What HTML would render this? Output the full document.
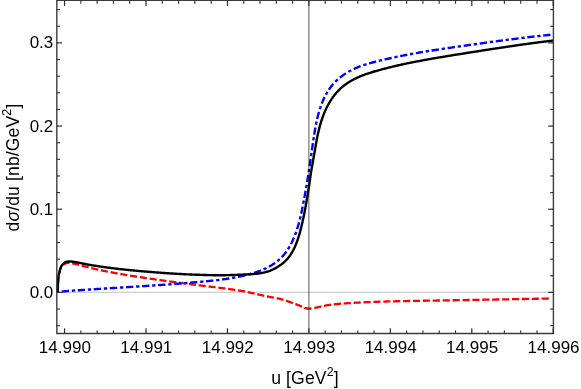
<!DOCTYPE html>
<html><head><meta charset="utf-8"><title>plot</title>
<style>
html,body{margin:0;padding:0;background:#fff;}
body{width:581px;height:389px;overflow:hidden;}
svg{display:block;will-change:transform;}
text{font-family:"Liberation Sans",sans-serif;fill:#000;}
</style></head><body>
<svg width="581" height="389" viewBox="0 0 581 389">
<rect width="581" height="389" fill="#fff"/>
<line x1="56.82" y1="292.28" x2="553.4" y2="292.28" stroke="#c4c4c4" stroke-width="1"/>
<g fill="none" stroke-linejoin="round">
<path d="M57.20,292.40 L57.28,292.21 L57.37,292.01 L57.46,291.82 L57.54,291.62 L57.61,291.42 L57.66,291.23 L57.70,291.03 L57.71,290.83 L57.73,290.62 L57.74,290.42 L57.76,290.22 L57.77,290.02 L57.78,289.81 L57.79,289.61 L57.80,289.40 L57.81,289.19 L57.82,288.99 L57.83,288.78 L57.84,288.57 L57.84,288.36 L57.85,288.16 L57.86,287.95 L57.86,287.74 L57.87,287.53 L57.87,287.32 L57.88,287.11 L57.88,286.90 L57.89,286.69 L57.89,286.48 L57.89,286.31 M57.97,283.56 L57.97,283.53 L57.98,283.33 L57.99,283.12 L58.00,282.91 L58.02,282.70 L58.03,282.49 L58.04,282.29 L58.06,282.08 L58.07,281.87 L58.09,281.66 L58.10,281.45 L58.12,281.25 L58.13,281.04 L58.15,280.83 L58.17,280.62 L58.19,280.41 L58.21,280.21 L58.22,280.00 L58.24,279.79 L58.27,279.58 L58.29,279.38 L58.31,279.17 L58.33,278.96 L58.35,278.75 L58.38,278.55 L58.40,278.34 L58.42,278.13 L58.45,277.93 L58.47,277.72 L58.50,277.52 L58.52,277.31 L58.55,277.10 L58.58,276.90 L58.61,276.69 L58.64,276.49 L58.65,276.44 M59.18,273.74 L59.20,273.63 L59.25,273.42 L59.30,273.22 L59.35,273.01 L59.40,272.81 L59.45,272.61 L59.50,272.41 L59.55,272.20 L59.60,272.00 L59.71,271.56 L59.81,271.06 L59.93,270.56 L60.07,270.05 L60.23,269.54 L60.41,269.03 L60.60,268.53 L60.82,268.03 L61.06,267.55 L61.32,267.08 L61.38,266.98 M63.10,264.85 L63.26,264.70 L63.65,264.39 L64.05,264.12 L64.47,263.87 L64.90,263.66 L65.35,263.47 L65.81,263.32 L66.28,263.19 L66.76,263.08 L67.25,263.01 L67.74,262.96 L68.24,262.93 L68.74,262.92 L69.25,262.93 L69.49,262.95 M72.10,263.28 L72.31,263.32 L72.82,263.41 L73.33,263.51 L73.83,263.62 L74.33,263.73 L74.83,263.84 L75.33,263.96 L75.83,264.08 L76.33,264.21 L76.83,264.33 L77.32,264.46 L77.82,264.59 L78.31,264.73 L78.81,264.86 L79.05,264.93 M81.70,265.66 L81.77,265.68 L82.26,265.81 L82.75,265.95 L83.25,266.08 L83.74,266.21 L84.24,266.34 L84.73,266.47 L85.22,266.60 L85.72,266.73 L86.21,266.86 L86.71,266.98 L87.20,267.11 L87.70,267.23 L88.20,267.36 L88.60,267.46 M91.27,268.10 L91.67,268.20 L92.17,268.31 L92.66,268.43 L93.16,268.54 L93.66,268.66 L94.16,268.77 L94.65,268.89 L95.15,269.00 L95.65,269.11 L96.15,269.22 L96.65,269.33 L97.14,269.44 L97.64,269.55 L98.14,269.66 L98.22,269.67 M100.90,270.24 L101.14,270.29 L101.64,270.40 L102.13,270.50 L102.63,270.60 L103.13,270.71 L103.63,270.81 L104.13,270.91 L104.63,271.01 L105.14,271.11 L105.64,271.21 L106.14,271.31 L106.64,271.41 L107.14,271.51 L107.64,271.61 L107.89,271.65 M110.59,272.17 L110.65,272.18 L111.15,272.28 L111.65,272.37 L112.15,272.47 L112.65,272.56 L113.15,272.66 L113.66,272.75 L114.16,272.84 L114.66,272.93 L115.16,273.03 L115.66,273.12 L116.17,273.21 L116.67,273.30 L117.17,273.39 L117.60,273.46 M120.30,273.94 L120.69,274.01 L121.19,274.10 L121.70,274.19 L122.20,274.27 L122.70,274.36 L123.21,274.44 L123.71,274.53 L124.21,274.62 L124.72,274.70 L125.22,274.79 L125.72,274.87 L126.23,274.95 L126.73,275.04 L127.23,275.12 L127.33,275.14 M130.03,275.58 L130.26,275.62 L130.76,275.70 L131.27,275.78 L131.77,275.86 L132.28,275.94 L132.78,276.02 L133.28,276.10 L133.79,276.18 L134.29,276.26 L134.80,276.34 L135.30,276.42 L135.81,276.50 L136.31,276.58 L136.82,276.66 L137.08,276.70 M139.79,277.12 L139.85,277.13 L140.35,277.20 L140.86,277.28 L141.36,277.36 L141.87,277.43 L142.37,277.51 L142.88,277.59 L143.38,277.66 L143.89,277.74 L144.39,277.81 L144.90,277.89 L145.40,277.97 L145.91,278.04 L146.41,278.12 L146.84,278.18 M149.55,278.58 L149.95,278.64 L150.46,278.71 L150.96,278.79 L151.47,278.86 L151.97,278.93 L152.48,279.01 L152.98,279.08 L153.49,279.15 L153.99,279.23 L154.50,279.30 L155.00,279.37 L155.51,279.45 L156.02,279.52 L156.52,279.59 L156.63,279.61 M159.35,280.00 L159.55,280.03 L160.06,280.10 L160.57,280.17 L161.07,280.24 L161.58,280.31 L162.08,280.39 L162.59,280.46 L163.09,280.53 L163.60,280.60 L164.10,280.67 L164.61,280.74 L165.12,280.81 L165.62,280.89 L166.13,280.96 L166.46,281.00 M169.20,281.39 L169.67,281.45 L170.17,281.52 L170.68,281.59 L171.18,281.66 L171.69,281.73 L172.19,281.80 L172.70,281.87 L173.21,281.94 L173.71,282.01 L174.22,282.07 L174.72,282.14 L175.23,282.21 L175.74,282.28 L176.24,282.35 L176.29,282.35 M179.02,282.72 L179.28,282.75 L179.78,282.82 L180.29,282.89 L180.80,282.96 L181.30,283.02 L181.81,283.09 L182.31,283.16 L182.82,283.22 L183.33,283.29 L183.83,283.35 L184.34,283.42 L184.84,283.48 L185.35,283.55 L185.86,283.62 L186.11,283.65 M188.84,284.00 L188.90,284.00 L189.40,284.07 L189.91,284.13 L190.41,284.20 L190.92,284.26 L191.43,284.33 L191.93,284.39 L192.44,284.45 L192.95,284.52 L193.45,284.58 L193.96,284.64 L194.47,284.71 L194.97,284.77 L195.48,284.83 L195.94,284.89 M198.67,285.23 L199.03,285.27 L199.53,285.34 L200.04,285.40 L200.55,285.46 L201.05,285.52 L201.56,285.59 L202.07,285.65 L202.57,285.71 L203.08,285.77 L203.59,285.84 L204.09,285.90 L204.60,285.96 L205.11,286.02 L205.62,286.09 L205.77,286.11 M208.50,286.44 L208.66,286.46 L209.16,286.52 L209.67,286.59 L210.18,286.65 L210.68,286.71 L211.19,286.77 L211.70,286.83 L212.20,286.90 L212.71,286.96 L213.22,287.02 L213.73,287.08 L214.23,287.15 L214.74,287.21 L215.25,287.27 L215.61,287.32 M218.34,287.66 L218.80,287.71 L219.30,287.78 L219.81,287.84 L220.32,287.90 L220.82,287.97 L221.33,288.03 L221.84,288.09 L222.34,288.16 L222.85,288.22 L223.36,288.28 L223.87,288.35 L224.37,288.41 L224.88,288.48 L225.39,288.54 L225.45,288.55 M228.18,288.91 L228.43,288.94 L228.93,289.01 L229.44,289.08 L229.94,289.14 L230.45,289.21 L230.96,289.28 L231.46,289.35 L231.97,289.43 L232.47,289.50 L232.98,289.57 L233.49,289.64 L233.99,289.72 L234.50,289.79 L235.00,289.87 L235.28,289.91 M238.00,290.33 L238.03,290.34 L238.53,290.42 L239.04,290.50 L239.54,290.58 L240.04,290.67 L240.55,290.75 L241.05,290.84 L241.55,290.93 L242.05,291.02 L242.56,291.11 L243.06,291.20 L243.56,291.29 L244.06,291.38 L244.56,291.48 L245.01,291.56 M247.69,292.10 L248.07,292.18 L248.57,292.28 L249.06,292.39 L249.56,292.50 L250.06,292.60 L250.56,292.71 L251.06,292.82 L251.56,292.93 L252.06,293.04 L252.55,293.15 L253.05,293.27 L253.55,293.38 L254.05,293.49 L254.55,293.61 L254.64,293.63 M257.31,294.24 L257.53,294.29 L258.03,294.41 L258.53,294.52 L259.03,294.64 L259.52,294.75 L260.02,294.86 L260.52,294.98 L261.02,295.09 L261.52,295.21 L262.01,295.32 L262.51,295.43 L263.01,295.54 L263.51,295.65 L264.01,295.76 L264.25,295.81 M266.92,296.38 L267.01,296.40 L267.51,296.50 L268.01,296.61 L268.51,296.71 L269.01,296.81 L269.51,296.90 L270.01,297.00 L270.51,297.10 L271.02,297.19 L271.52,297.28 L272.02,297.37 L272.53,297.46 L273.03,297.55 L273.53,297.64 L273.91,297.71 M276.61,298.20 L277.05,298.28 L277.55,298.38 L278.05,298.49 L278.55,298.59 L279.05,298.70 L279.54,298.81 L280.04,298.93 L280.53,299.05 L281.03,299.18 L281.52,299.31 L282.01,299.44 L282.50,299.58 L282.99,299.72 L283.48,299.87 L283.52,299.88 M286.13,300.70 L286.40,300.80 L286.88,300.96 L287.37,301.13 L287.85,301.29 L288.33,301.46 L288.82,301.63 L289.30,301.80 L289.78,301.98 L290.26,302.15 L290.74,302.32 L291.22,302.50 L291.70,302.67 L292.19,302.85 L292.67,303.02 L292.83,303.08 M295.40,304.03 L295.54,304.08 L296.02,304.26 L296.50,304.44 L296.98,304.62 L297.46,304.81 L297.93,304.99 L298.41,305.18 L298.88,305.36 L299.36,305.55 L299.83,305.74 L300.30,305.94 L300.77,306.13 L301.24,306.33 L301.71,306.53 L302.01,306.66 M304.50,307.79 L304.50,307.80 L304.66,307.86 L304.82,307.92 L304.98,307.97 L305.14,308.02 L305.30,308.08 L305.47,308.12 L305.63,308.17 L305.79,308.21 L305.95,308.26 L306.12,308.29 L306.28,308.33 L306.44,308.36 L306.61,308.39 L306.77,308.41 L306.94,308.43 L307.11,308.46 L307.27,308.48 L307.44,308.50 L307.61,308.52 L307.78,308.54 L307.94,308.56 L308.11,308.57 L308.28,308.58 L308.45,308.59 L308.62,308.60 L308.79,308.60 L308.95,308.60 L309.12,308.60 L309.29,308.59 L309.46,308.59 L309.63,308.58 L309.79,308.57 L309.96,308.56 L310.13,308.55 L310.30,308.53 L310.47,308.52 L310.63,308.51 L310.80,308.49 L310.97,308.48 L311.14,308.46 L311.30,308.45 L311.47,308.43 L311.57,308.42 M314.30,308.00 L315.10,307.93 L315.88,307.72 L316.66,307.52 L317.44,307.32 L318.22,307.12 L319.00,306.94 L319.78,306.75 L320.56,306.58 L321.35,306.40 L321.37,306.40 M324.10,305.84 L324.49,305.77 L325.28,305.62 L326.07,305.48 L326.85,305.34 L327.64,305.21 L328.43,305.09 L329.22,304.97 L330.02,304.85 L330.81,304.74 L331.15,304.69 M333.88,304.35 L333.98,304.33 L334.78,304.24 L335.57,304.15 L336.37,304.07 L337.16,303.99 L337.96,303.91 L338.75,303.84 L339.55,303.77 L340.35,303.70 L340.99,303.65 M343.73,303.43 L344.34,303.39 L345.14,303.34 L345.94,303.28 L346.74,303.23 L347.54,303.18 L348.34,303.13 L349.14,303.08 L349.94,303.03 L350.73,302.99 L350.87,302.98 M353.61,302.82 L353.93,302.80 L354.73,302.76 L355.53,302.72 L356.33,302.68 L357.13,302.63 L357.93,302.59 L358.73,302.55 L359.53,302.51 L360.33,302.48 L360.75,302.46 M363.49,302.33 L363.54,302.33 L364.34,302.29 L365.14,302.26 L365.94,302.22 L366.74,302.19 L367.54,302.15 L368.34,302.12 L369.14,302.09 L369.94,302.06 L370.64,302.03 M373.38,301.92 L373.94,301.90 L374.74,301.88 L375.54,301.85 L376.34,301.82 L377.15,301.79 L377.95,301.76 L378.75,301.74 L379.55,301.71 L380.35,301.69 L380.53,301.68 M383.27,301.60 L383.55,301.59 L384.35,301.57 L385.15,301.54 L385.96,301.52 L386.76,301.50 L387.56,301.47 L388.36,301.45 L389.16,301.43 L389.96,301.41 L390.42,301.40 M393.17,301.33 L393.97,301.31 L394.77,301.29 L395.57,301.27 L396.37,301.26 L397.17,301.24 L397.97,301.22 L398.77,301.20 L399.58,301.18 L400.31,301.17 M403.06,301.11 L403.58,301.10 L404.38,301.09 L405.18,301.07 L405.99,301.05 L406.79,301.04 L407.59,301.02 L408.39,301.01 L409.19,300.99 L409.99,300.98 L410.21,300.98 M412.96,300.93 L413.20,300.92 L414.00,300.91 L414.80,300.89 L415.60,300.88 L416.40,300.87 L417.20,300.85 L418.01,300.84 L418.81,300.82 L419.61,300.81 L420.10,300.80 M422.85,300.76 L423.62,300.74 L424.42,300.73 L425.22,300.72 L426.02,300.70 L426.82,300.69 L427.62,300.68 L428.42,300.66 L429.22,300.65 L429.93,300.64 M432.65,300.59 L433.23,300.59 L434.03,300.57 L434.83,300.56 L435.64,300.55 L436.44,300.53 L437.24,300.52 L438.04,300.51 L438.84,300.49 L439.64,300.48 L439.91,300.47 M442.70,300.43 L442.85,300.43 L443.65,300.41 L444.45,300.40 L445.25,300.39 L446.05,300.37 L446.85,300.36 L447.65,300.35 L448.45,300.33 L449.26,300.32 L449.85,300.31 M452.60,300.26 L453.26,300.25 L454.06,300.24 L454.86,300.23 L455.66,300.21 L456.47,300.20 L457.27,300.18 L458.07,300.17 L458.87,300.16 L459.67,300.14 L459.75,300.14 M462.50,300.10 L462.87,300.09 L463.68,300.08 L464.48,300.06 L465.28,300.05 L466.08,300.04 L466.88,300.02 L467.68,300.01 L468.48,299.99 L469.28,299.98 L469.65,299.97 M472.40,299.93 L472.49,299.93 L473.29,299.91 L474.09,299.90 L474.89,299.89 L475.69,299.87 L476.49,299.86 L477.29,299.84 L478.09,299.83 L478.90,299.82 L479.55,299.80 M482.30,299.76 L482.90,299.75 L483.70,299.73 L484.50,299.72 L485.30,299.70 L486.11,299.69 L486.91,299.68 L487.71,299.66 L488.51,299.65 L489.31,299.63 L489.45,299.63 M492.20,299.58 L492.51,299.58 L493.31,299.56 L494.12,299.55 L494.92,299.53 L495.72,299.52 L496.52,299.51 L497.32,299.49 L498.12,299.48 L498.92,299.46 L499.35,299.45 M502.10,299.40 L502.13,299.40 L502.93,299.39 L503.73,299.38 L504.53,299.36 L505.33,299.35 L506.13,299.33 L506.93,299.32 L507.73,299.30 L508.53,299.29 L509.25,299.27 M512.00,299.22 L512.54,299.21 L513.34,299.20 L514.14,299.18 L514.94,299.17 L515.74,299.15 L516.55,299.14 L517.35,299.12 L518.15,299.11 L518.95,299.09 L519.15,299.09 M521.90,299.04 L522.15,299.03 L522.95,299.02 L523.76,299.00 L524.56,298.98 L525.36,298.97 L526.16,298.95 L526.96,298.94 L527.76,298.92 L528.56,298.91 L529.05,298.90 M531.80,298.84 L532.57,298.83 L533.37,298.81 L534.17,298.80 L534.97,298.78 L535.77,298.76 L536.57,298.75 L537.38,298.73 L538.18,298.72 L538.88,298.70 M541.60,298.65 L542.18,298.63 L542.98,298.62 L543.79,298.60 L544.59,298.59 L545.39,298.57 L546.19,298.55 L546.99,298.54 L547.79,298.52 L548.59,298.50 L548.75,298.50" stroke="#ff0000" stroke-width="2.3"/>
<path d="M57.21,291.86 L58.28,291.78 L59.12,291.71 M61.76,291.50 L62.54,291.44 L63.61,291.36 L64.68,291.28 L65.74,291.20 L66.81,291.12 L67.88,291.04 L68.94,290.96 L69.04,290.95 M71.83,290.75 L72.14,290.73 L73.21,290.65 L74.28,290.57 L75.13,290.51 M77.77,290.33 L78.55,290.27 L79.62,290.20 L80.69,290.12 L81.76,290.05 L82.82,289.98 L83.89,289.90 L84.96,289.83 L85.05,289.82 M87.85,289.64 L88.17,289.61 L89.24,289.54 L90.31,289.47 L91.14,289.42 M93.78,289.24 L94.59,289.19 L95.66,289.12 L96.73,289.05 L97.80,288.98 L98.87,288.91 L99.94,288.85 L101.01,288.78 L101.07,288.77 M103.86,288.60 L104.22,288.57 L105.29,288.51 L106.36,288.44 L107.16,288.39 M109.80,288.22 L110.64,288.17 L111.71,288.10 L112.78,288.03 L113.85,287.97 L114.92,287.90 L115.99,287.83 L117.06,287.77 L117.17,287.76 M119.99,287.59 L120.28,287.57 L121.35,287.50 L122.42,287.43 L123.33,287.38 M126.00,287.21 L126.70,287.17 L127.77,287.10 L128.84,287.03 L129.92,286.97 L130.99,286.90 L132.06,286.83 L133.13,286.76 L133.32,286.75 M136.13,286.57 L136.34,286.56 L137.41,286.49 L138.48,286.43 L139.44,286.36 M142.10,286.19 L142.77,286.15 L143.84,286.08 L144.91,286.01 L145.98,285.94 L147.05,285.87 L148.12,285.80 L149.19,285.73 L149.38,285.72 M152.17,285.53 L152.40,285.52 L153.47,285.45 L154.54,285.38 L155.46,285.31 M158.10,285.13 L158.82,285.08 L159.89,285.01 L160.96,284.94 L162.03,284.86 L163.10,284.79 L164.17,284.71 L165.23,284.64 L165.42,284.62 M168.23,284.42 L168.44,284.41 L169.51,284.33 L170.58,284.25 L171.54,284.18 M174.20,283.98 L174.85,283.93 L175.92,283.85 L176.99,283.77 L178.06,283.69 L179.12,283.61 L180.19,283.52 L181.26,283.44 L181.43,283.42 M184.21,283.20 L184.46,283.18 L185.53,283.10 L186.59,283.01 L187.48,282.94 M190.10,282.72 L190.86,282.66 L191.93,282.57 L192.99,282.48 L194.06,282.38 L195.12,282.29 L196.19,282.20 L197.25,282.11 L197.38,282.09 M200.17,281.84 L200.45,281.82 L201.51,281.72 L202.57,281.62 L203.46,281.54 M206.10,281.29 L206.83,281.22 L207.89,281.12 L208.96,281.01 L210.02,280.90 L211.08,280.79 L212.14,280.68 L213.20,280.57 L213.39,280.55 M216.18,280.23 L216.39,280.21 L217.45,280.08 L218.51,279.95 L219.46,279.84 M222.10,279.50 L222.75,279.41 L223.81,279.26 L224.87,279.11 L225.93,278.96 L226.98,278.80 L228.04,278.64 L229.10,278.48 L229.35,278.44 M232.13,277.98 L232.27,277.95 L233.33,277.77 L234.38,277.57 L235.39,277.39 M238.00,276.88 L238.60,276.76 L239.66,276.54 L240.71,276.32 L241.77,276.09 L242.82,275.85 L243.87,275.61 L244.93,275.36 L245.33,275.26 M248.12,274.55 L249.13,274.29 L250.18,274.00 L251.22,273.71 L251.39,273.66 M254.00,272.88 L254.34,272.77 L255.38,272.44 L256.41,272.09 L257.43,271.74 L258.45,271.38 L259.47,271.00 L260.48,270.62 L260.90,270.45 M263.49,269.37 L264.45,268.95 L265.43,268.49 L266.40,268.03 L266.49,267.98 M268.85,266.76 L269.25,266.55 L270.18,266.02 L271.10,265.48 L272.01,264.92 L272.91,264.35 L273.80,263.76 L274.67,263.16 L275.05,262.88 M277.29,261.19 L278.04,260.57 L278.85,259.88 L279.64,259.18 L279.80,259.03 M281.70,257.18 L281.91,256.97 L282.63,256.19 L283.34,255.41 L284.03,254.61 L284.70,253.79 L285.35,252.96 L285.99,252.11 L286.38,251.57 M287.96,249.25 L288.38,248.60 L288.94,247.69 L289.48,246.77 L289.68,246.43 M290.96,244.10 L291.03,243.95 L291.52,242.99 L292.00,242.03 L292.46,241.06 L292.91,240.08 L293.35,239.09 L293.78,238.10 L294.04,237.47 M295.08,234.86 L295.37,234.09 L295.74,233.07 L296.10,232.06 L296.20,231.76 M297.05,229.24 L297.13,228.99 L297.45,227.97 L297.76,226.94 L298.07,225.91 L298.37,224.88 L298.66,223.85 L298.94,222.81 L299.10,222.22 M299.80,219.51 L300.01,218.65 L300.27,217.61 L300.51,216.56 L300.58,216.29 M301.16,213.70 L301.23,213.42 L301.45,212.38 L301.68,211.33 L301.90,210.28 L302.12,209.23 L302.34,208.17 L302.55,207.12 L302.67,206.55 M303.21,203.79 L303.38,202.92 L303.59,201.86 L303.79,200.81 L303.84,200.55 M304.33,197.94 L304.38,197.65 L304.58,196.60 L304.77,195.54 L304.96,194.49 L305.15,193.43 L305.34,192.38 L305.52,191.32 L305.63,190.74 M306.10,187.98 L306.25,187.10 L306.43,186.04 L306.61,184.99 L306.65,184.72 M307.09,182.10 L307.13,181.82 L307.30,180.76 L307.48,179.70 L307.65,178.65 L307.81,177.59 L307.98,176.53 L308.15,175.47 L308.24,174.88 M308.67,172.10 L308.80,171.24 L308.97,170.18 L309.13,169.12 L309.17,168.84 M309.57,166.21 L309.61,165.95 L309.76,164.89 L309.92,163.83 L310.08,162.77 L310.23,161.71 L310.39,160.65 L310.54,159.59 L310.63,158.98 M311.04,156.20 L311.16,155.36 L311.31,154.30 L311.47,153.24 L311.51,152.93 M311.89,150.30 L311.92,150.06 L312.08,149.00 L312.23,147.94 L312.38,146.88 L312.53,145.82 L312.68,144.76 L312.84,143.70 L312.92,143.15 M313.31,140.41 L313.45,139.46 L313.61,138.40 L313.77,137.34 L313.79,137.18 M314.20,134.59 L314.26,134.17 L314.43,133.11 L314.61,132.05 L314.78,131.00 L314.97,129.94 L315.15,128.89 L315.34,127.83 L315.41,127.47 M315.93,124.75 L315.94,124.68 L316.15,123.63 L316.37,122.58 L316.59,121.56 M317.16,119.00 L317.31,118.39 L317.56,117.34 L317.82,116.30 L318.09,115.25 L318.36,114.21 L318.65,113.17 L318.94,112.14 L319.00,111.92 M319.82,109.23 L319.88,109.03 L320.21,108.00 L320.55,106.98 L320.86,106.09 M321.77,103.60 L322.04,102.92 L322.44,101.92 L322.85,100.92 L323.28,99.94 L323.71,98.95 L324.17,97.98 L324.59,97.11 M325.83,94.70 L326.12,94.17 L326.64,93.24 L327.18,92.32 L327.42,91.92 M328.80,89.76 L328.89,89.62 L329.50,88.75 L330.12,87.88 L330.76,87.03 L331.41,86.19 L332.08,85.37 L332.77,84.56 L333.38,83.88 M335.34,81.80 L335.69,81.45 L336.45,80.70 L337.23,79.97 L337.78,79.47 M339.84,77.71 L340.48,77.19 L341.33,76.53 L342.18,75.88 L343.05,75.25 L343.93,74.63 L344.81,74.03 L345.71,73.44 L345.88,73.34 M348.32,71.85 L348.46,71.76 L349.39,71.23 L350.34,70.71 L351.27,70.22 M353.70,69.02 L354.17,68.80 L355.15,68.36 L356.13,67.93 L357.11,67.52 L358.10,67.11 L359.10,66.72 L360.10,66.35 L360.59,66.17 M363.29,65.22 L364.15,64.94 L365.17,64.61 L366.20,64.29 L366.50,64.20 M369.10,63.43 L369.29,63.38 L370.32,63.09 L371.36,62.80 L372.40,62.52 L373.44,62.25 L374.48,61.98 L375.52,61.71 L376.12,61.56 M378.83,60.88 L379.70,60.67 L380.74,60.42 L381.79,60.17 L382.02,60.11 M384.59,59.51 L384.92,59.43 L385.97,59.19 L387.02,58.95 L388.06,58.71 L389.11,58.48 L390.16,58.25 L391.21,58.02 L391.67,57.92 M394.40,57.33 L395.40,57.12 L396.45,56.90 L397.50,56.68 L397.62,56.66 M400.20,56.13 L400.65,56.04 L401.70,55.83 L402.75,55.63 L403.81,55.42 L404.86,55.22 L405.91,55.01 L406.96,54.81 L407.32,54.75 M410.05,54.23 L410.12,54.22 L411.17,54.03 L412.23,53.84 L413.28,53.65 M415.87,53.18 L416.44,53.08 L417.50,52.90 L418.55,52.71 L419.61,52.53 L420.66,52.35 L421.72,52.17 L422.77,51.99 L423.02,51.95 M425.76,51.50 L425.94,51.47 L427.00,51.29 L428.06,51.12 L429.00,50.97 M431.60,50.55 L432.28,50.45 L433.34,50.28 L434.40,50.11 L435.46,49.95 L436.52,49.79 L437.57,49.62 L438.63,49.46 L438.88,49.42 M441.68,49.00 L441.81,48.98 L442.87,48.82 L443.93,48.66 L444.97,48.51 M447.62,48.12 L448.16,48.04 L449.22,47.88 L450.28,47.73 L451.34,47.57 L452.40,47.42 L453.46,47.26 L454.52,47.11 L454.91,47.06 M457.71,46.66 L458.77,46.50 L459.83,46.35 L460.89,46.20 L461.01,46.19 M463.66,45.81 L464.07,45.75 L465.13,45.60 L466.19,45.45 L467.25,45.30 L468.32,45.15 L469.38,45.00 L470.44,44.85 L470.95,44.78 M473.75,44.38 L474.68,44.25 L475.75,44.10 L476.81,43.95 L477.05,43.92 M479.70,43.55 L479.99,43.51 L481.06,43.36 L482.12,43.21 L483.18,43.07 L484.24,42.92 L485.30,42.77 L486.37,42.63 L487.02,42.54 M489.83,42.15 L490.62,42.04 L491.68,41.90 L492.74,41.76 L493.14,41.70 M495.80,41.34 L495.93,41.33 L496.99,41.18 L498.06,41.04 L499.12,40.90 L500.18,40.76 L501.24,40.62 L502.31,40.48 L502.89,40.40 M505.62,40.04 L506.56,39.92 L507.62,39.78 L508.69,39.64 L508.82,39.63 M511.40,39.30 L511.88,39.24 L512.94,39.10 L514.01,38.97 L515.07,38.83 L516.13,38.70 L517.20,38.57 L518.26,38.43 L518.63,38.39 M521.40,38.05 L521.45,38.04 L522.52,37.91 L523.58,37.78 L524.65,37.66 L524.67,37.65 M527.29,37.34 L527.84,37.28 L528.90,37.15 L529.97,37.03 L531.03,36.91 L532.10,36.78 L533.16,36.66 L534.23,36.54 L534.52,36.51 M537.30,36.20 L537.42,36.18 L538.48,36.07 L539.55,35.95 L540.57,35.84 M543.20,35.56 L543.81,35.49 L544.87,35.38 L545.94,35.27 L547.00,35.16 L548.07,35.05 L549.13,34.94 L550.20,34.84 L550.46,34.81 M553.25,34.54 L553.40,34.52" stroke="#0000ff" stroke-width="2.4"/>
<path d="M57.20,291.86 L57.28,291.67 L57.36,291.48 L57.44,291.29 L57.53,291.09 L57.61,290.86 L57.69,290.51 L57.77,289.46 L57.85,287.54 L57.93,284.08 L58.01,282.16 L58.09,280.93 L58.18,279.92 L58.26,279.04 L58.34,278.25 L58.42,277.52 L58.50,276.85 L58.58,276.24 L58.66,275.70 L58.75,275.21 L58.83,274.76 L58.91,274.33 L58.99,273.93 L59.07,273.54 L59.15,273.16 L59.23,272.80 L59.32,272.45 L59.40,272.10 L59.48,271.77 L59.56,271.44 L59.64,271.11 L59.72,270.77 L59.80,270.35 L59.88,270.00 L59.97,269.67 L60.05,269.36 L60.13,269.08 L60.21,268.82 L60.29,268.57 L60.37,268.34 L60.45,268.11 L60.54,267.90 L60.62,267.69 L60.70,267.50 L60.78,267.31 L60.86,267.13 L60.94,266.96 L61.02,266.79 L61.11,266.62 L61.19,266.47 L61.27,266.32 L61.35,266.17 L61.43,266.03 L61.51,265.89 L61.59,265.75 L61.67,265.62 L61.76,265.50 L61.84,265.37 L61.92,265.25 L62.00,265.14 L62.73,264.23 L63.46,263.52 L64.19,262.95 L64.92,262.51 L65.65,262.18 L66.37,261.92 L67.10,261.73 L67.83,261.59 L68.56,261.51 L69.29,261.47 L70.02,261.47 L70.75,261.50 L71.48,261.55 L72.21,261.62 L72.94,261.71 L73.67,261.80 L74.39,261.91 L75.12,262.02 L75.85,262.15 L76.58,262.28 L77.31,262.42 L78.04,262.56 L78.77,262.71 L79.50,262.86 L80.23,263.01 L80.96,263.16 L81.69,263.31 L82.41,263.46 L83.14,263.61 L83.87,263.75 L84.60,263.90 L85.33,264.04 L86.06,264.17 L86.79,264.31 L87.52,264.45 L88.25,264.58 L88.98,264.71 L89.71,264.84 L90.43,264.97 L91.16,265.09 L91.89,265.22 L92.62,265.34 L93.35,265.46 L94.08,265.58 L94.81,265.70 L95.54,265.81 L96.27,265.93 L97.00,266.04 L97.73,266.16 L98.45,266.27 L99.18,266.38 L99.91,266.48 L100.64,266.59 L101.37,266.70 L102.10,266.80 L102.83,266.90 L103.56,267.01 L104.29,267.11 L105.02,267.21 L105.75,267.31 L106.47,267.41 L107.20,267.50 L107.93,267.60 L108.66,267.70 L109.39,267.79 L110.12,267.89 L110.85,267.98 L111.58,268.07 L112.31,268.16 L113.04,268.25 L113.77,268.34 L114.49,268.43 L115.22,268.52 L115.95,268.61 L116.68,268.69 L117.41,268.78 L118.14,268.86 L118.87,268.95 L119.60,269.03 L120.33,269.11 L121.06,269.19 L121.79,269.27 L122.52,269.35 L123.24,269.43 L123.97,269.51 L124.70,269.59 L125.43,269.67 L126.16,269.74 L126.89,269.82 L127.62,269.90 L128.35,269.97 L129.08,270.04 L129.81,270.12 L130.54,270.19 L131.26,270.26 L131.99,270.33 L132.72,270.40 L133.45,270.47 L134.18,270.54 L134.91,270.61 L135.64,270.68 L136.37,270.75 L137.10,270.82 L137.83,270.88 L138.56,270.95 L139.28,271.02 L140.01,271.08 L140.74,271.14 L141.47,271.21 L142.20,271.27 L142.93,271.34 L143.66,271.40 L144.39,271.46 L145.12,271.52 L145.85,271.58 L146.58,271.64 L147.30,271.70 L148.03,271.76 L148.76,271.82 L149.49,271.88 L150.22,271.94 L150.95,272.00 L151.68,272.06 L152.41,272.12 L153.14,272.17 L153.87,272.23 L154.60,272.29 L155.32,272.34 L156.05,272.40 L156.78,272.45 L157.51,272.51 L158.24,272.56 L158.97,272.62 L159.70,272.67 L160.43,272.72 L161.16,272.78 L161.89,272.83 L162.62,272.88 L163.34,272.93 L164.07,272.99 L164.80,273.04 L165.53,273.09 L166.26,273.14 L166.99,273.19 L167.72,273.24 L168.45,273.29 L169.18,273.33 L169.91,273.38 L170.64,273.43 L171.36,273.48 L172.09,273.52 L172.82,273.57 L173.55,273.61 L174.28,273.66 L175.01,273.70 L175.74,273.75 L176.47,273.79 L177.20,273.83 L177.93,273.87 L178.66,273.91 L179.38,273.95 L180.11,273.99 L180.84,274.03 L181.57,274.07 L182.30,274.11 L183.03,274.15 L183.76,274.18 L184.49,274.22 L185.22,274.26 L185.95,274.29 L186.68,274.33 L187.40,274.36 L188.13,274.39 L188.86,274.42 L189.59,274.46 L190.32,274.49 L191.05,274.52 L191.78,274.55 L192.51,274.58 L193.24,274.61 L193.97,274.64 L194.70,274.66 L195.42,274.69 L196.15,274.72 L196.88,274.75 L197.61,274.77 L198.34,274.80 L199.07,274.82 L199.80,274.85 L200.53,274.87 L201.26,274.90 L201.99,274.92 L202.72,274.94 L203.44,274.96 L204.17,274.98 L204.90,275.01 L205.63,275.03 L206.36,275.04 L207.09,275.06 L207.82,275.08 L208.55,275.10 L209.28,275.11 L210.01,275.13 L210.74,275.14 L211.46,275.16 L212.19,275.17 L212.92,275.18 L213.65,275.19 L214.38,275.20 L215.11,275.21 L215.84,275.22 L216.57,275.22 L217.30,275.23 L218.03,275.23 L218.76,275.23 L219.48,275.23 L220.21,275.23 L220.94,275.23 L221.67,275.23 L222.40,275.22 L223.13,275.21 L223.86,275.20 L224.59,275.19 L225.32,275.18 L226.05,275.17 L226.78,275.16 L227.51,275.14 L228.23,275.13 L228.96,275.11 L229.69,275.09 L230.42,275.07 L231.15,275.05 L231.88,275.03 L232.61,275.01 L233.34,274.98 L234.07,274.96 L234.80,274.93 L235.53,274.91 L236.25,274.88 L236.98,274.85 L237.71,274.82 L238.44,274.79 L239.17,274.76 L239.90,274.73 L240.63,274.70 L241.36,274.67 L242.09,274.63 L242.82,274.60 L243.55,274.57 L244.27,274.53 L245.00,274.50 L245.73,274.46 L246.46,274.43 L247.19,274.39 L247.92,274.35 L248.65,274.31 L249.38,274.27 L250.11,274.23 L250.84,274.19 L251.57,274.14 L252.29,274.09 L253.02,274.04 L253.75,273.98 L254.48,273.92 L255.21,273.85 L255.94,273.78 L256.67,273.70 L257.40,273.62 L258.13,273.52 L258.86,273.43 L259.59,273.32 L260.31,273.21 L261.04,273.09 L261.77,272.96 L262.50,272.82 L263.23,272.67 L263.96,272.52 L264.69,272.35 L265.42,272.17 L266.15,271.97 L266.88,271.76 L267.61,271.54 L268.33,271.31 L269.06,271.06 L269.79,270.80 L270.52,270.52 L271.25,270.22 L271.98,269.91 L272.71,269.57 L273.44,269.22 L274.17,268.86 L274.90,268.48 L275.63,268.08 L276.35,267.67 L277.08,267.24 L277.81,266.79 L278.54,266.33 L279.27,265.85 L280.00,265.36 L280.13,265.27 L280.26,265.18 L280.39,265.09 L280.52,265.00 L280.65,264.90 L280.78,264.81 L280.91,264.72 L281.04,264.62 L281.17,264.53 L281.30,264.43 L281.43,264.33 L281.56,264.24 L281.69,264.14 L281.82,264.04 L281.95,263.94 L282.08,263.84 L282.21,263.74 L282.34,263.64 L282.47,263.53 L282.61,263.43 L282.74,263.33 L282.87,263.22 L283.00,263.11 L283.13,263.00 L283.26,262.90 L283.39,262.79 L283.52,262.67 L283.65,262.56 L283.78,262.45 L283.91,262.34 L284.04,262.22 L284.17,262.11 L284.30,261.99 L284.43,261.87 L284.56,261.75 L284.69,261.63 L284.82,261.51 L284.95,261.39 L285.08,261.26 L285.21,261.14 L285.34,261.01 L285.47,260.88 L285.60,260.75 L285.73,260.62 L285.86,260.49 L285.99,260.36 L286.12,260.23 L286.25,260.09 L286.38,259.95 L286.51,259.82 L286.64,259.68 L286.77,259.53 L286.90,259.39 L287.03,259.25 L287.16,259.11 L287.29,258.96 L287.42,258.81 L287.56,258.66 L287.69,258.51 L287.82,258.36 L287.95,258.20 L288.08,258.04 L288.21,257.88 L288.34,257.72 L288.47,257.56 L288.60,257.40 L288.73,257.23 L288.86,257.07 L288.99,256.90 L289.12,256.72 L289.25,256.55 L289.38,256.38 L289.51,256.20 L289.64,256.02 L289.77,255.84 L289.90,255.66 L290.03,255.48 L290.16,255.29 L290.29,255.10 L290.42,254.91 L290.55,254.72 L290.68,254.52 L290.81,254.32 L290.94,254.12 L291.07,253.92 L291.20,253.71 L291.33,253.51 L291.46,253.30 L291.59,253.09 L291.72,252.87 L291.85,252.65 L291.98,252.44 L292.11,252.21 L292.24,251.98 L292.37,251.76 L292.51,251.53 L292.64,251.29 L292.77,251.06 L292.90,250.82 L293.03,250.58 L293.16,250.33 L293.29,250.09 L293.42,249.84 L293.55,249.58 L293.68,249.33 L293.81,249.07 L293.94,248.80 L294.07,248.54 L294.20,248.27 L294.33,248.00 L294.46,247.72 L294.59,247.45 L294.72,247.16 L294.85,246.88 L294.98,246.59 L295.11,246.29 L295.24,246.00 L295.37,245.70 L295.50,245.39 L295.63,245.09 L295.76,244.78 L295.89,244.46 L296.02,244.14 L296.15,243.82 L296.28,243.49 L296.41,243.16 L296.54,242.83 L296.67,242.49 L296.80,242.14 L296.93,241.79 L297.06,241.44 L297.19,241.08 L297.32,240.72 L297.45,240.36 L297.59,239.98 L297.72,239.61 L297.85,239.22 L297.98,238.84 L298.11,238.45 L298.24,238.05 L298.37,237.65 L298.50,237.24 L298.63,236.83 L298.76,236.41 L298.89,235.98 L299.02,235.55 L299.15,235.12 L299.28,234.68 L299.41,234.23 L299.54,233.77 L299.67,233.31 L299.80,232.85 L299.93,232.38 L300.06,231.90 L300.19,231.41 L300.32,230.92 L300.45,230.43 L300.58,229.92 L300.71,229.42 L300.84,228.90 L300.97,228.38 L301.10,227.85 L301.23,227.32 L301.36,226.78 L301.49,226.24 L301.62,225.68 L301.75,225.13 L301.88,224.57 L302.01,224.00 L302.14,223.43 L302.27,222.86 L302.40,222.28 L302.54,221.69 L302.67,221.10 L302.80,220.51 L302.93,219.92 L303.06,219.32 L303.19,218.72 L303.32,218.11 L303.45,217.50 L303.58,216.88 L303.71,216.26 L303.84,215.64 L303.97,215.02 L304.10,214.38 L304.23,213.75 L304.36,213.11 L304.49,212.47 L304.62,211.81 L304.75,211.15 L304.88,210.47 L305.01,209.80 L305.14,209.11 L305.27,208.42 L305.40,207.73 L305.53,207.03 L305.66,206.32 L305.79,205.60 L305.92,204.88 L306.05,204.16 L306.18,203.42 L306.31,202.68 L306.44,201.93 L306.57,201.18 L306.70,200.42 L306.83,199.65 L306.96,198.88 L307.09,198.11 L307.22,197.33 L307.35,196.54 L307.48,195.75 L307.62,194.95 L307.75,194.15 L307.88,193.35 L308.01,192.54 L308.14,191.72 L308.27,190.90 L308.40,190.07 L308.53,189.23 L308.66,188.39 L308.79,187.55 L308.92,186.70 L309.05,185.84 L309.18,184.98 L309.31,184.11 L309.44,183.24 L309.57,182.37 L309.70,181.49 L309.83,180.61 L309.96,179.72 L310.09,178.83 L310.22,177.94 L310.35,177.04 L310.48,176.14 L310.61,175.24 L310.74,174.34 L310.87,173.43 L311.00,172.53 L311.15,171.62 L311.31,170.70 L311.47,169.79 L311.63,168.87 L311.79,167.96 L311.95,167.04 L312.11,166.12 L312.28,165.19 L312.44,164.27 L312.60,163.35 L312.76,162.42 L312.92,161.49 L313.09,160.56 L313.25,159.64 L313.41,158.71 L313.57,157.79 L313.73,156.87 L313.89,155.96 L314.05,155.06 L314.22,154.16 L314.38,153.27 L314.54,152.39 L314.70,151.52 L314.86,150.66 L315.01,149.81 L315.14,148.98 L315.27,148.17 L315.40,147.37 L315.53,146.59 L315.66,145.82 L315.79,145.06 L315.92,144.29 L316.05,143.54 L316.18,142.79 L316.31,142.06 L316.44,141.34 L316.57,140.63 L316.70,139.93 L316.83,139.25 L316.96,138.57 L317.09,137.91 L317.22,137.26 L317.35,136.62 L317.48,135.99 L317.61,135.37 L317.74,134.76 L317.87,134.16 L318.00,133.57 L318.13,132.99 L318.27,132.42 L318.40,131.86 L318.53,131.30 L318.66,130.76 L318.79,130.22 L318.92,129.69 L319.05,129.16 L319.18,128.65 L319.31,128.14 L319.44,127.64 L319.57,127.15 L319.70,126.66 L319.83,126.18 L319.96,125.70 L320.09,125.24 L320.22,124.78 L320.35,124.32 L320.48,123.87 L320.61,123.43 L320.74,122.99 L320.87,122.56 L321.00,122.13 L321.13,121.71 L321.26,121.29 L321.39,120.88 L321.52,120.48 L321.65,120.07 L321.78,119.68 L321.91,119.29 L322.04,118.90 L322.17,118.52 L322.30,118.14 L322.43,117.77 L322.56,117.40 L322.69,117.04 L322.82,116.68 L322.95,116.32 L323.08,115.97 L323.21,115.62 L323.35,115.28 L323.48,114.94 L323.61,114.60 L323.74,114.27 L323.87,113.94 L324.00,113.61 L324.13,113.29 L324.26,112.98 L324.39,112.66 L324.52,112.35 L324.65,112.04 L324.78,111.74 L324.91,111.43 L325.04,111.13 L325.17,110.84 L325.30,110.54 L325.43,110.25 L325.56,109.97 L325.69,109.69 L325.82,109.40 L325.95,109.12 L326.08,108.85 L326.21,108.58 L326.34,108.30 L326.47,108.04 L326.60,107.77 L326.73,107.51 L326.86,107.25 L326.99,106.99 L327.12,106.74 L327.25,106.49 L327.38,106.23 L327.51,105.99 L327.64,105.74 L327.77,105.50 L327.90,105.25 L328.03,105.02 L328.16,104.78 L328.30,104.55 L328.43,104.31 L328.56,104.08 L328.69,103.86 L328.82,103.63 L328.95,103.40 L329.08,103.18 L329.21,102.96 L329.34,102.75 L329.47,102.53 L329.60,102.31 L329.73,102.10 L329.85,101.89 L329.97,101.68 L330.09,101.48 L330.21,101.27 L330.34,101.07 L330.46,100.87 L330.58,100.67 L330.70,100.47 L330.82,100.27 L330.94,100.08 L331.06,99.88 L331.18,99.69 L331.30,99.50 L331.43,99.31 L331.55,99.13 L331.67,98.94 L331.79,98.76 L331.91,98.57 L332.03,98.39 L332.16,98.22 L332.28,98.04 L332.40,97.86 L332.52,97.69 L332.64,97.51 L332.77,97.34 L332.89,97.17 L333.01,97.00 L333.13,96.83 L333.26,96.66 L333.38,96.50 L333.50,96.33 L333.62,96.17 L333.75,96.01 L333.87,95.84 L333.99,95.68 L334.11,95.53 L334.24,95.37 L334.36,95.21 L334.48,95.05 L334.61,94.90 L334.73,94.75 L334.85,94.59 L334.97,94.44 L335.10,94.29 L335.22,94.14 L335.34,93.99 L335.47,93.84 L335.59,93.70 L335.71,93.55 L335.84,93.41 L335.96,93.26 L336.09,93.12 L336.21,92.98 L336.33,92.84 L336.46,92.70 L336.58,92.56 L336.70,92.42 L336.83,92.28 L336.95,92.15 L337.08,92.01 L337.20,91.88 L337.32,91.74 L337.45,91.61 L337.57,91.47 L337.70,91.34 L337.82,91.21 L337.94,91.08 L338.07,90.95 L338.19,90.82 L338.32,90.69 L338.44,90.57 L338.56,90.44 L338.69,90.32 L338.81,90.19 L338.94,90.07 L339.06,89.94 L339.19,89.82 L339.31,89.70 L339.44,89.58 L339.56,89.46 L339.69,89.34 L339.81,89.22 L339.93,89.10 L340.06,88.98 L340.18,88.87 L340.31,88.75 L340.43,88.63 L340.56,88.52 L340.68,88.40 L340.81,88.29 L340.93,88.18 L341.06,88.06 L341.18,87.95 L341.31,87.84 L341.43,87.73 L341.56,87.62 L341.68,87.51 L341.81,87.40 L341.93,87.29 L342.06,87.18 L342.18,87.07 L342.31,86.97 L342.44,86.86 L342.56,86.76 L342.69,86.65 L342.81,86.55 L342.94,86.44 L343.06,86.34 L343.19,86.24 L343.31,86.14 L343.44,86.03 L343.57,85.93 L343.70,85.83 L343.83,85.73 L343.96,85.63 L344.09,85.53 L344.22,85.43 L344.35,85.34 L344.48,85.24 L344.61,85.14 L344.74,85.04 L344.87,84.95 L345.00,84.85 L345.84,84.25 L346.67,83.67 L347.51,83.10 L348.35,82.56 L349.18,82.03 L350.02,81.51 L350.86,81.02 L351.70,80.53 L352.53,80.07 L353.37,79.61 L354.21,79.18 L355.04,78.75 L355.88,78.34 L356.72,77.94 L357.55,77.55 L358.39,77.17 L359.23,76.81 L360.07,76.45 L360.90,76.10 L361.74,75.76 L362.58,75.43 L363.41,75.11 L364.25,74.80 L365.09,74.49 L365.92,74.20 L366.76,73.90 L367.60,73.62 L368.43,73.34 L369.27,73.06 L370.11,72.79 L370.95,72.53 L371.78,72.27 L372.62,72.01 L373.46,71.76 L374.29,71.51 L375.13,71.27 L375.97,71.03 L376.80,70.79 L377.64,70.55 L378.48,70.32 L379.31,70.08 L380.15,69.85 L380.99,69.63 L381.83,69.40 L382.66,69.17 L383.50,68.95 L384.34,68.73 L385.17,68.51 L386.01,68.30 L386.85,68.08 L387.68,67.87 L388.52,67.66 L389.36,67.45 L390.20,67.25 L391.03,67.04 L391.87,66.84 L392.71,66.64 L393.54,66.44 L394.38,66.24 L395.22,66.04 L396.05,65.85 L396.89,65.65 L397.73,65.46 L398.56,65.27 L399.40,65.08 L400.24,64.90 L401.08,64.71 L401.91,64.53 L402.75,64.35 L403.59,64.16 L404.42,63.99 L405.26,63.81 L406.10,63.63 L406.93,63.45 L407.77,63.28 L408.61,63.11 L409.44,62.94 L410.28,62.77 L411.12,62.60 L411.96,62.43 L412.79,62.26 L413.63,62.10 L414.47,61.93 L415.30,61.77 L416.14,61.61 L416.98,61.44 L417.81,61.28 L418.65,61.12 L419.49,60.97 L420.33,60.81 L421.16,60.65 L422.00,60.50 L422.84,60.34 L423.67,60.19 L424.51,60.03 L425.35,59.88 L426.18,59.73 L427.02,59.58 L427.86,59.43 L428.69,59.28 L429.53,59.13 L430.37,58.98 L431.21,58.84 L432.04,58.69 L432.88,58.54 L433.72,58.40 L434.55,58.25 L435.39,58.11 L436.23,57.97 L437.06,57.82 L437.90,57.68 L438.74,57.54 L439.58,57.40 L440.41,57.26 L441.25,57.12 L442.09,56.98 L442.92,56.84 L443.76,56.70 L444.60,56.56 L445.43,56.42 L446.27,56.28 L447.11,56.15 L447.94,56.01 L448.78,55.87 L449.62,55.74 L450.46,55.60 L451.29,55.46 L452.13,55.33 L452.97,55.19 L453.80,55.06 L454.64,54.92 L455.48,54.79 L456.31,54.66 L457.15,54.52 L457.99,54.39 L458.82,54.25 L459.66,54.12 L460.50,53.99 L461.34,53.85 L462.17,53.72 L463.01,53.59 L463.85,53.46 L464.68,53.32 L465.52,53.19 L466.36,53.06 L467.19,52.92 L468.03,52.79 L468.87,52.66 L469.71,52.53 L470.54,52.40 L471.38,52.26 L472.22,52.13 L473.05,52.00 L473.89,51.87 L474.73,51.73 L475.56,51.60 L476.40,51.47 L477.24,51.34 L478.07,51.21 L478.91,51.08 L479.75,50.95 L480.59,50.81 L481.42,50.68 L482.26,50.55 L483.10,50.42 L483.93,50.29 L484.77,50.16 L485.61,50.03 L486.44,49.90 L487.28,49.77 L488.12,49.64 L488.96,49.51 L489.79,49.38 L490.63,49.25 L491.47,49.12 L492.30,49.00 L493.14,48.87 L493.98,48.74 L494.81,48.61 L495.65,48.48 L496.49,48.36 L497.32,48.23 L498.16,48.10 L499.00,47.98 L499.84,47.85 L500.67,47.72 L501.51,47.60 L502.35,47.47 L503.18,47.35 L504.02,47.22 L504.86,47.10 L505.69,46.97 L506.53,46.85 L507.37,46.72 L508.20,46.60 L509.04,46.48 L509.88,46.35 L510.72,46.23 L511.55,46.11 L512.39,45.99 L513.23,45.86 L514.06,45.74 L514.90,45.62 L515.74,45.50 L516.57,45.38 L517.41,45.26 L518.25,45.14 L519.09,45.02 L519.92,44.90 L520.76,44.78 L521.60,44.67 L522.43,44.55 L523.27,44.43 L524.11,44.31 L524.94,44.20 L525.78,44.08 L526.62,43.97 L527.45,43.85 L528.29,43.74 L529.13,43.62 L529.97,43.51 L530.80,43.40 L531.64,43.28 L532.48,43.17 L533.31,43.06 L534.15,42.95 L534.99,42.84 L535.82,42.72 L536.66,42.61 L537.50,42.51 L538.33,42.40 L539.17,42.29 L540.01,42.18 L540.85,42.07 L541.68,41.96 L542.52,41.86 L543.36,41.75 L544.19,41.65 L545.03,41.54 L545.87,41.44 L546.70,41.33 L547.54,41.23 L548.38,41.13 L549.22,41.02 L550.05,40.92 L550.89,40.82 L551.73,40.72 L552.56,40.62 L553.40,40.52" stroke="#000" stroke-width="2.4"/>
</g>
<line x1="308.9" y1="0.4" x2="308.9" y2="333.5" stroke="#000" stroke-opacity="0.65" stroke-width="1"/>
<path d="M56.82,333.5 L56.82,0.4 L553.4,0.4 L553.4,333.5 Z" fill="none" stroke="#3c3c3c" stroke-width="1.4"/>
<line x1="64.55" y1="333.50" x2="64.55" y2="328.30" stroke="#2c2c2c" stroke-width="1.2"/><line x1="64.55" y1="0.40" x2="64.55" y2="5.90" stroke="#2c2c2c" stroke-width="1.2"/><line x1="80.84" y1="333.50" x2="80.84" y2="330.40" stroke="#333" stroke-width="1.15"/><line x1="80.84" y1="0.40" x2="80.84" y2="3.70" stroke="#333" stroke-width="1.15"/><line x1="97.13" y1="333.50" x2="97.13" y2="330.40" stroke="#333" stroke-width="1.15"/><line x1="97.13" y1="0.40" x2="97.13" y2="3.70" stroke="#333" stroke-width="1.15"/><line x1="113.42" y1="333.50" x2="113.42" y2="330.40" stroke="#333" stroke-width="1.15"/><line x1="113.42" y1="0.40" x2="113.42" y2="3.70" stroke="#333" stroke-width="1.15"/><line x1="129.71" y1="333.50" x2="129.71" y2="330.40" stroke="#333" stroke-width="1.15"/><line x1="129.71" y1="0.40" x2="129.71" y2="3.70" stroke="#333" stroke-width="1.15"/><line x1="146.00" y1="333.50" x2="146.00" y2="328.30" stroke="#2c2c2c" stroke-width="1.2"/><line x1="146.00" y1="0.40" x2="146.00" y2="5.90" stroke="#2c2c2c" stroke-width="1.2"/><line x1="162.29" y1="333.50" x2="162.29" y2="330.40" stroke="#333" stroke-width="1.15"/><line x1="162.29" y1="0.40" x2="162.29" y2="3.70" stroke="#333" stroke-width="1.15"/><line x1="178.58" y1="333.50" x2="178.58" y2="330.40" stroke="#333" stroke-width="1.15"/><line x1="178.58" y1="0.40" x2="178.58" y2="3.70" stroke="#333" stroke-width="1.15"/><line x1="194.87" y1="333.50" x2="194.87" y2="330.40" stroke="#333" stroke-width="1.15"/><line x1="194.87" y1="0.40" x2="194.87" y2="3.70" stroke="#333" stroke-width="1.15"/><line x1="211.16" y1="333.50" x2="211.16" y2="330.40" stroke="#333" stroke-width="1.15"/><line x1="211.16" y1="0.40" x2="211.16" y2="3.70" stroke="#333" stroke-width="1.15"/><line x1="227.45" y1="333.50" x2="227.45" y2="328.30" stroke="#2c2c2c" stroke-width="1.2"/><line x1="227.45" y1="0.40" x2="227.45" y2="5.90" stroke="#2c2c2c" stroke-width="1.2"/><line x1="243.74" y1="333.50" x2="243.74" y2="330.40" stroke="#333" stroke-width="1.15"/><line x1="243.74" y1="0.40" x2="243.74" y2="3.70" stroke="#333" stroke-width="1.15"/><line x1="260.03" y1="333.50" x2="260.03" y2="330.40" stroke="#333" stroke-width="1.15"/><line x1="260.03" y1="0.40" x2="260.03" y2="3.70" stroke="#333" stroke-width="1.15"/><line x1="276.32" y1="333.50" x2="276.32" y2="330.40" stroke="#333" stroke-width="1.15"/><line x1="276.32" y1="0.40" x2="276.32" y2="3.70" stroke="#333" stroke-width="1.15"/><line x1="292.61" y1="333.50" x2="292.61" y2="330.40" stroke="#333" stroke-width="1.15"/><line x1="292.61" y1="0.40" x2="292.61" y2="3.70" stroke="#333" stroke-width="1.15"/><line x1="308.90" y1="333.50" x2="308.90" y2="328.30" stroke="#2c2c2c" stroke-width="1.2"/><line x1="308.90" y1="0.40" x2="308.90" y2="5.90" stroke="#2c2c2c" stroke-width="1.2"/><line x1="325.19" y1="333.50" x2="325.19" y2="330.40" stroke="#333" stroke-width="1.15"/><line x1="325.19" y1="0.40" x2="325.19" y2="3.70" stroke="#333" stroke-width="1.15"/><line x1="341.48" y1="333.50" x2="341.48" y2="330.40" stroke="#333" stroke-width="1.15"/><line x1="341.48" y1="0.40" x2="341.48" y2="3.70" stroke="#333" stroke-width="1.15"/><line x1="357.77" y1="333.50" x2="357.77" y2="330.40" stroke="#333" stroke-width="1.15"/><line x1="357.77" y1="0.40" x2="357.77" y2="3.70" stroke="#333" stroke-width="1.15"/><line x1="374.06" y1="333.50" x2="374.06" y2="330.40" stroke="#333" stroke-width="1.15"/><line x1="374.06" y1="0.40" x2="374.06" y2="3.70" stroke="#333" stroke-width="1.15"/><line x1="390.35" y1="333.50" x2="390.35" y2="328.30" stroke="#2c2c2c" stroke-width="1.2"/><line x1="390.35" y1="0.40" x2="390.35" y2="5.90" stroke="#2c2c2c" stroke-width="1.2"/><line x1="406.64" y1="333.50" x2="406.64" y2="330.40" stroke="#333" stroke-width="1.15"/><line x1="406.64" y1="0.40" x2="406.64" y2="3.70" stroke="#333" stroke-width="1.15"/><line x1="422.93" y1="333.50" x2="422.93" y2="330.40" stroke="#333" stroke-width="1.15"/><line x1="422.93" y1="0.40" x2="422.93" y2="3.70" stroke="#333" stroke-width="1.15"/><line x1="439.22" y1="333.50" x2="439.22" y2="330.40" stroke="#333" stroke-width="1.15"/><line x1="439.22" y1="0.40" x2="439.22" y2="3.70" stroke="#333" stroke-width="1.15"/><line x1="455.51" y1="333.50" x2="455.51" y2="330.40" stroke="#333" stroke-width="1.15"/><line x1="455.51" y1="0.40" x2="455.51" y2="3.70" stroke="#333" stroke-width="1.15"/><line x1="471.80" y1="333.50" x2="471.80" y2="328.30" stroke="#2c2c2c" stroke-width="1.2"/><line x1="471.80" y1="0.40" x2="471.80" y2="5.90" stroke="#2c2c2c" stroke-width="1.2"/><line x1="488.09" y1="333.50" x2="488.09" y2="330.40" stroke="#333" stroke-width="1.15"/><line x1="488.09" y1="0.40" x2="488.09" y2="3.70" stroke="#333" stroke-width="1.15"/><line x1="504.38" y1="333.50" x2="504.38" y2="330.40" stroke="#333" stroke-width="1.15"/><line x1="504.38" y1="0.40" x2="504.38" y2="3.70" stroke="#333" stroke-width="1.15"/><line x1="520.67" y1="333.50" x2="520.67" y2="330.40" stroke="#333" stroke-width="1.15"/><line x1="520.67" y1="0.40" x2="520.67" y2="3.70" stroke="#333" stroke-width="1.15"/><line x1="536.96" y1="333.50" x2="536.96" y2="330.40" stroke="#333" stroke-width="1.15"/><line x1="536.96" y1="0.40" x2="536.96" y2="3.70" stroke="#333" stroke-width="1.15"/><line x1="553.25" y1="333.50" x2="553.25" y2="328.30" stroke="#2c2c2c" stroke-width="1.2"/><line x1="553.25" y1="0.40" x2="553.25" y2="5.90" stroke="#2c2c2c" stroke-width="1.2"/><line x1="56.82" y1="325.67" x2="60.02" y2="325.67" stroke="#333" stroke-width="1.15"/><line x1="553.40" y1="325.67" x2="550.20" y2="325.67" stroke="#333" stroke-width="1.15"/><line x1="56.82" y1="309.03" x2="60.02" y2="309.03" stroke="#333" stroke-width="1.15"/><line x1="553.40" y1="309.03" x2="550.20" y2="309.03" stroke="#333" stroke-width="1.15"/><line x1="56.82" y1="292.40" x2="62.02" y2="292.40" stroke="#2c2c2c" stroke-width="1.2"/><line x1="553.40" y1="292.40" x2="548.20" y2="292.40" stroke="#2c2c2c" stroke-width="1.2"/><line x1="56.82" y1="275.77" x2="60.02" y2="275.77" stroke="#333" stroke-width="1.15"/><line x1="553.40" y1="275.77" x2="550.20" y2="275.77" stroke="#333" stroke-width="1.15"/><line x1="56.82" y1="259.13" x2="60.02" y2="259.13" stroke="#333" stroke-width="1.15"/><line x1="553.40" y1="259.13" x2="550.20" y2="259.13" stroke="#333" stroke-width="1.15"/><line x1="56.82" y1="242.50" x2="60.02" y2="242.50" stroke="#333" stroke-width="1.15"/><line x1="553.40" y1="242.50" x2="550.20" y2="242.50" stroke="#333" stroke-width="1.15"/><line x1="56.82" y1="225.86" x2="60.02" y2="225.86" stroke="#333" stroke-width="1.15"/><line x1="553.40" y1="225.86" x2="550.20" y2="225.86" stroke="#333" stroke-width="1.15"/><line x1="56.82" y1="209.23" x2="62.02" y2="209.23" stroke="#2c2c2c" stroke-width="1.2"/><line x1="553.40" y1="209.23" x2="548.20" y2="209.23" stroke="#2c2c2c" stroke-width="1.2"/><line x1="56.82" y1="192.60" x2="60.02" y2="192.60" stroke="#333" stroke-width="1.15"/><line x1="553.40" y1="192.60" x2="550.20" y2="192.60" stroke="#333" stroke-width="1.15"/><line x1="56.82" y1="175.96" x2="60.02" y2="175.96" stroke="#333" stroke-width="1.15"/><line x1="553.40" y1="175.96" x2="550.20" y2="175.96" stroke="#333" stroke-width="1.15"/><line x1="56.82" y1="159.33" x2="60.02" y2="159.33" stroke="#333" stroke-width="1.15"/><line x1="553.40" y1="159.33" x2="550.20" y2="159.33" stroke="#333" stroke-width="1.15"/><line x1="56.82" y1="142.69" x2="60.02" y2="142.69" stroke="#333" stroke-width="1.15"/><line x1="553.40" y1="142.69" x2="550.20" y2="142.69" stroke="#333" stroke-width="1.15"/><line x1="56.82" y1="126.06" x2="62.02" y2="126.06" stroke="#2c2c2c" stroke-width="1.2"/><line x1="553.40" y1="126.06" x2="548.20" y2="126.06" stroke="#2c2c2c" stroke-width="1.2"/><line x1="56.82" y1="109.43" x2="60.02" y2="109.43" stroke="#333" stroke-width="1.15"/><line x1="553.40" y1="109.43" x2="550.20" y2="109.43" stroke="#333" stroke-width="1.15"/><line x1="56.82" y1="92.79" x2="60.02" y2="92.79" stroke="#333" stroke-width="1.15"/><line x1="553.40" y1="92.79" x2="550.20" y2="92.79" stroke="#333" stroke-width="1.15"/><line x1="56.82" y1="76.16" x2="60.02" y2="76.16" stroke="#333" stroke-width="1.15"/><line x1="553.40" y1="76.16" x2="550.20" y2="76.16" stroke="#333" stroke-width="1.15"/><line x1="56.82" y1="59.52" x2="60.02" y2="59.52" stroke="#333" stroke-width="1.15"/><line x1="553.40" y1="59.52" x2="550.20" y2="59.52" stroke="#333" stroke-width="1.15"/><line x1="56.82" y1="42.89" x2="62.02" y2="42.89" stroke="#2c2c2c" stroke-width="1.2"/><line x1="553.40" y1="42.89" x2="548.20" y2="42.89" stroke="#2c2c2c" stroke-width="1.2"/><line x1="56.82" y1="26.26" x2="60.02" y2="26.26" stroke="#333" stroke-width="1.15"/><line x1="553.40" y1="26.26" x2="550.20" y2="26.26" stroke="#333" stroke-width="1.15"/><line x1="56.82" y1="9.62" x2="60.02" y2="9.62" stroke="#333" stroke-width="1.15"/><line x1="553.40" y1="9.62" x2="550.20" y2="9.62" stroke="#333" stroke-width="1.15"/>
<text x="64.85" y="353.4" text-anchor="middle" font-size="17.0">14.990</text><text x="146.30" y="353.4" text-anchor="middle" font-size="17.0">14.991</text><text x="227.75" y="353.4" text-anchor="middle" font-size="17.0">14.992</text><text x="309.20" y="353.4" text-anchor="middle" font-size="17.0">14.993</text><text x="390.65" y="353.4" text-anchor="middle" font-size="17.0">14.994</text><text x="472.10" y="353.4" text-anchor="middle" font-size="17.0">14.995</text><text x="553.55" y="353.4" text-anchor="middle" font-size="17.0">14.996</text><text x="53.3" y="298.00" text-anchor="end" font-size="17.0">0.0</text><text x="53.3" y="214.83" text-anchor="end" font-size="17.0">0.1</text><text x="53.3" y="131.66" text-anchor="end" font-size="17.0">0.2</text><text x="53.3" y="48.49" text-anchor="end" font-size="17.0">0.3</text>
<text x="271.2" y="383.7" font-size="17.6" letter-spacing="0.12">u [GeV<tspan dy="-7.7" font-size="12.4">2</tspan><tspan dy="7.7">]</tspan></text>
<text transform="translate(18.9,231.5) rotate(-90)" font-size="17.6" letter-spacing="0.12">d<tspan font-style="italic">σ</tspan>/du [nb/GeV<tspan dy="-7.7" font-size="12.4">2</tspan><tspan dy="7.7">]</tspan></text>
</svg>
</body></html>
